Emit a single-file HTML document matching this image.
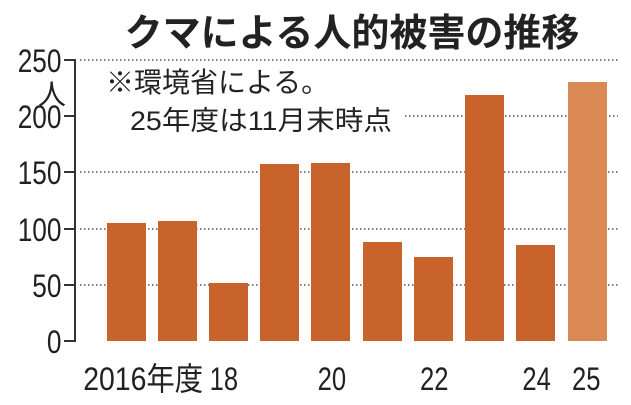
<!DOCTYPE html><html><head><meta charset="utf-8"><style>
body{margin:0;background:#fff;}
svg text{font-family:"Liberation Sans","Noto Sans CJK JP",sans-serif;fill:#222;}
</style></head><body>
<svg width="631" height="400" viewBox="0 0 631 400" xmlns="http://www.w3.org/2000/svg">
<text x="352" y="46" font-size="38" font-weight="bold" text-anchor="middle">クマによる人的被害の推移</text>
<g stroke="#555" stroke-width="1.5" stroke-dasharray="1.5,2.5">
<line x1="80" y1="60" x2="618" y2="60"/>
<line x1="405" y1="116" x2="618" y2="116"/>
<line x1="80" y1="172" x2="618" y2="172"/>
<line x1="80" y1="229" x2="618" y2="229"/>
<line x1="80" y1="285" x2="618" y2="285"/>
</g>
<g fill="#c8632b">
<rect x="107" y="223" width="39" height="118"/>
<rect x="158" y="221" width="39" height="120"/>
<rect x="209" y="283" width="39" height="58"/>
<rect x="260" y="164" width="39" height="177"/>
<rect x="311" y="163" width="39" height="178"/>
<rect x="363" y="242" width="39" height="99"/>
<rect x="414" y="257" width="39" height="84"/>
<rect x="465" y="95" width="39" height="246"/>
<rect x="516" y="245" width="39" height="96"/>
</g>
<rect x="568" y="82" width="39" height="259" fill="#dc8a55"/>
<g stroke="#333" stroke-width="2">
<line x1="75" y1="59" x2="75" y2="342"/>
<line x1="64" y1="60" x2="75" y2="60"/><line x1="64" y1="116" x2="75" y2="116"/>
<line x1="64" y1="172" x2="75" y2="172"/><line x1="64" y1="229" x2="75" y2="229"/>
<line x1="64" y1="285" x2="75" y2="285"/><line x1="64" y1="341" x2="75" y2="341"/>
</g>
<g font-size="32" text-anchor="end" transform="scale(0.82,1)">
<text x="75" y="72">250</text><text x="75" y="128">200</text><text x="75" y="184">150</text>
<text x="75" y="241">100</text><text x="75" y="297">50</text><text x="75" y="353">0</text>
</g>
<text x="52" y="104" font-size="28" text-anchor="middle">人</text>
<text x="106" y="92" font-size="28">※環境省による。</text>
<text x="130" y="130" font-size="27" textLength="262" lengthAdjust="spacingAndGlyphs">25年度は11月末時点</text>
<g font-size="32" transform="scale(0.8,1)">
<text x="104" y="390" textLength="150" lengthAdjust="spacingAndGlyphs">2016年度</text>
<text x="262" y="390">18</text>
<text x="397" y="390">20</text>
<text x="525" y="390">22</text>
<text x="653" y="390">24</text>
<text x="715" y="390">25</text>
</g>
</svg>
</body></html>
